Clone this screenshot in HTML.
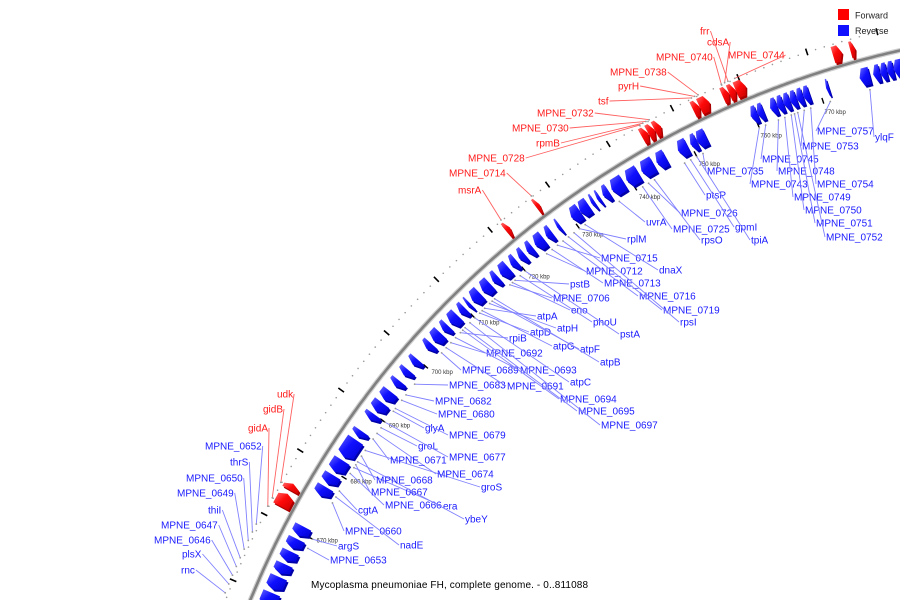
<!DOCTYPE html>
<html><head><meta charset="utf-8"><style>
html,body{margin:0;padding:0;background:#fff;width:900px;height:600px;overflow:hidden;}
svg{display:block;}
text{font-family:"Liberation Sans",sans-serif;}
</style></head><body>
<svg id="map" width="900" height="600" viewBox="0 0 900 600" xmlns="http://www.w3.org/2000/svg" style="overflow:hidden">
<defs>
<linearGradient id="gb" x1="0" y1="0" x2="1" y2="1"><stop offset="0" stop-color="#6a6aff"/><stop offset="0.45" stop-color="#1010ff"/><stop offset="1" stop-color="#0000d0"/></linearGradient>
<linearGradient id="gr" x1="0" y1="0" x2="1" y2="1"><stop offset="0" stop-color="#ff7070"/><stop offset="0.45" stop-color="#ff0a0a"/><stop offset="1" stop-color="#c80000"/></linearGradient>
</defs>
<g id="ticks"></g>
<g id="backbone"></g>
<g id="genes"></g>
<g id="labels"></g>
<g>
<rect x="838" y="9" width="11" height="11" fill="#ff0000"/>
<text x="855" y="18.5" font-size="9" fill="#222">Forward</text>
<rect x="838" y="25" width="11" height="11" fill="#1010ff"/>
<text x="855" y="34" font-size="9" fill="#222">Reverse</text>
</g>
<text x="311" y="588" font-size="10" fill="#000" textLength="277" lengthAdjust="spacing">Mycoplasma pneumoniae FH, complete genome. - 0..811088</text>
</svg>
<script>
const genomeLength = 811.088;
const reverseGenes = [[656,658],[658.5,660.5],[661,663],[663.5,665],[665.5,667],[667.5,669],[669.5,671],[676,677.5],[678,679.5],[680,682],[682.5,685.5],[686,687],[689,690],[690.5,692],[692.5,694],[695,696],[697,698],[699,700],[702,703],[703.5,705],[705.5,706.5],[707,708.5],[709,710],[710.5,711],[711.5,713],[713.5,715],[715.5,716.5],[717,718.5],[719,720],[720.5,721.5],[722,723],[723.5,725],[725.5,726.5],[727.5,728],[730,731.5],[731.5,733],[733.5,734],[734.5,735],[735.5,736.5],[737,739],[739.5,741.5],[742,744],[744.5,746],[748,749.5],[750,751],[751,752.5],[759.5,760.5],[760.5,761.5],[762.5,763.5],[763.5,764.5],[764.5,765.5],[765.5,766.5],[766.5,767.5],[767.5,768.5],[771,771.4],[776,777.5],[778,779],[779,780],[780,781],[781,782.5]];
const forwardGenes = [[672,674],[674.6,675.6],[721.6,722.3],[726.9,727.5],[744.5,745.5],[745.5,746.5],[746.5,747.5],[752.5,753.5],[753.5,755],[757,758],[758,759],[759,760.5],[773.3,774.6],[775.8,776.5]];
const reverseLabels = ["MPNE_0653","argS","MPNE_0660","nadE","cgtA","MPNE_0666","era","MPNE_0667","ybeY","MPNE_0668","groS","MPNE_0674","MPNE_0671","groL","MPNE_0677","glyA","MPNE_0679","MPNE_0680","MPNE_0682","MPNE_0683","MPNE_0689","MPNE_0691","MPNE_0692","MPNE_0693","rpiB","MPNE_0694","MPNE_0695","MPNE_0697","atpC","atpD","atpG","atpA","atpH","atpF","atpB","MPNE_0706","eno","pstB","phoU","pstA","MPNE_0712","MPNE_0713","MPNE_0715","MPNE_0716","MPNE_0719","rpsI","rplM","dnaX","uvrA","MPNE_0725","MPNE_0726","rpsO","ptsP","gpmI","tpiA","MPNE_0735","MPNE_0743","MPNE_0745","MPNE_0748","MPNE_0749","MPNE_0750","MPNE_0751","MPNE_0752","MPNE_0753","MPNE_0754","MPNE_0757","ylqF"];
const reverseAnchors = [668.5,670,676,677,678,681,682,682.5,683,684,685,688,687,689,690,692,692.5,694,695,697,703,704,705,706,707,707.5,708,709,710,711,711.5,712,713,713.5,714,717,717.5,718,719,720,724,725,726,727,728,729,730,731,737,741,742,743,748,749,750,751,760,761,763,764,765,765.5,766,767,768,771,777];
const reverseLabelX = [330,338,345,400,358,385,443,371,465,376,481,437,390,418,449,425,449,438,435,449,462,507,486,520,509,560,578,601,570,530,553,537,557,580,600,553,571,570,593,620,586,604,601,639,663,680,627,659,646,673,681,701,706,735,751,707,751,762,778,794,805,816,826,802,817,817,875];
const reverseLabelY = [560,546,531,545,510,505,506,492,519,480,487,474,460,446,457,428,435,414,401,385,370,386,353,370,338,399,411,425,382,332,346,316,328,349,362,298,310,284,322,334,271,283,258,296,310,322,239,270,222,229,213,240,195,227,240,171,184,159,171,197,210,223,237,146,184,131,137];
const leftLabels = ["rnc","plsX","MPNE_0646","MPNE_0647","thiI","MPNE_0649","MPNE_0650","thrS","MPNE_0652"];
const leftAnchors = [658,659.3,660.6,661.9,663.2,664.5,665.8,667.1,668.3];
const leftLabelX = [181,182,154,161,208,177,186,230,205];
const leftLabelY = [570,554,540,525,510,493,478,462,446];
const forwardLabels = ["gidA","gidB","udk","msrA","MPNE_0714","MPNE_0728","rpmB","MPNE_0730","MPNE_0732","tsf","pyrH","MPNE_0738","MPNE_0740","cdsA","frr","MPNE_0744"];
const forwardAnchors = [671.2,672.5,674.9,722,727.3,745,745.5,746,746.5,753,753.5,754,757.5,758,758.5,759.5];
const forwardLabelX = [248,263,277,458,449,468,536,512,537,598,618,610,656,707,700,728];
const forwardLabelY = [428,409,394,190,173,158,143,128,113,101,86,72,57,42,31,55];
const kbpTicks = [660,670,680,690,700,710,720,730,740,750,760,770];

const CX=1102, CY=948, R=920, NS="http://www.w3.org/2000/svg";
function ang(k){return (-90+360*k/genomeLength)*Math.PI/180;}
function pt(k,r){const a=ang(k);return [CX+r*Math.cos(a),CY+r*Math.sin(a)];}
function mk(tag,attrs,parent){const e=document.createElementNS(NS,tag);for(const k in attrs)e.setAttribute(k,attrs[k]);parent.appendChild(e);return e;}
const gT=document.getElementById('ticks'),gB=document.getElementById('backbone'),gG=document.getElementById('genes'),gL=document.getElementById('labels');

let d="";for(let k=650;k<=784;k+=0.5){const p=pt(k,R);d+=(d?"L":"M")+p[0].toFixed(1)+" "+p[1].toFixed(1);}
const bbShadow=mk('path',{d:d,fill:'none',stroke:'#cfcfcf','stroke-width':5},gB);


const bb=mk('path',{d:d,fill:'none',stroke:'#808080','stroke-width':2.6},gB);



for(let k=650;k<=781;k+=1.25){
  if(Math.abs(k/10-Math.round(k/10))<0.01){
    const a=pt(k,940),b=pt(k,947);
    const t=mk('line',{x1:a[0],y1:a[1],x2:b[0],y2:b[1],stroke:'#000','stroke-width':1.6},gT);
    
    
  } else {
    const p=pt(k,943);
    const c=mk('circle',{cx:p[0],cy:p[1],r:0.8,fill:'#999'},gT);
    
    
  }
}
kbpTicks.forEach(k=>{
  const a=pt(k,889),b=pt(k,895);
  const t=mk('line',{x1:a[0],y1:a[1],x2:b[0],y2:b[1],stroke:'#000','stroke-width':1.4},gT);
  
  
  const p=pt(k+0.6,880);
  const tx=mk('text',{x:p[0]-6,y:p[1]+3,'font-size':6,fill:'#333'},gT);
  tx.textContent=k+" kbp";
  
  
});

function genePath(s,e,r1,r2,fwd){
  const t=Math.min(0.5,(e-s)/2),pts=[],n=4;
  if(fwd){
    for(let i=0;i<=n;i++)pts.push(pt(s+(e-t-s)*i/n,r2));
    pts.push(pt(e,(r1+r2)/2));
    for(let i=n;i>=0;i--)pts.push(pt(s+(e-t-s)*i/n,r1));
  } else {
    for(let i=0;i<=n;i++)pts.push(pt(s+t+(e-s-t)*i/n,r2));
    for(let i=n;i>=0;i--)pts.push(pt(s+t+(e-s-t)*i/n,r1));
    pts.push(pt(s,(r1+r2)/2));
  }
  return "M"+pts.map(p=>p[0].toFixed(1)+" "+p[1].toFixed(1)).join("L")+"Z";
}
reverseGenes.forEach(g=>{
  const dd=genePath(g[0],g[1],894,912,false);
  const sh=mk('path',{d:dd,fill:'#0000a8',transform:'translate(1.5,2)'},gG);
  
  
  const p=mk('path',{d:dd,fill:'url(#gb)'},gG);
  
  
});
forwardGenes.forEach(g=>{
  const dd=genePath(g[0],g[1],924,941,true);
  const sh=mk('path',{d:dd,fill:'#a80000',transform:'translate(1.5,2)'},gG);
  
  
  const p=mk('path',{d:dd,fill:'url(#gr)'},gG);
  
  
});

function addLabel(name,k,r,x,y,color,lineColor,rightSide){
  const t=mk('text',{x:x,y:y+3.5,'font-size':10,fill:color},gL);
  t.textContent=name;
  
  
  const w=t.getComputedTextLength();
  const a=pt(k,r);
  const ex=rightSide?x+w+1:x-1, ey=y;
  const l=mk('line',{x1:a[0],y1:a[1],x2:ex,y2:ey,stroke:lineColor,'stroke-width':0.9},gL);
  
  
  const c=mk('circle',{cx:a[0],cy:a[1],r:0.9,fill:'#999'},gL);
  
  
}
reverseLabels.forEach((n,i)=>addLabel(n,reverseAnchors[i],889,reverseLabelX[i],reverseLabelY[i],'#1a1aff','#8080ff',false));
leftLabels.forEach((n,i)=>addLabel(n,leftAnchors[i],946,leftLabelX[i],leftLabelY[i],'#1a1aff','#8080ff',true));
forwardLabels.forEach((n,i)=>addLabel(n,forwardAnchors[i],944,forwardLabelX[i],forwardLabelY[i],'#ff1a1a','#ff6060',true));
</script>
</body></html>
